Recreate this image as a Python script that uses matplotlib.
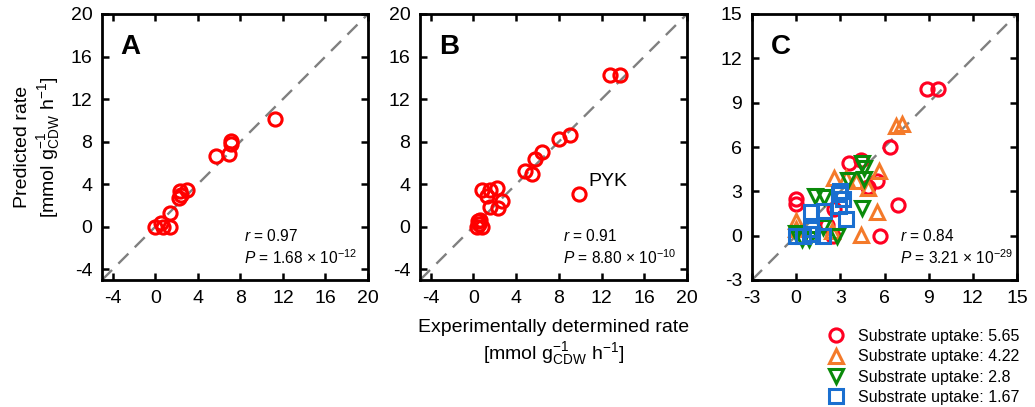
import numpy as np
import matplotlib
matplotlib.use("Agg")
import matplotlib.pyplot as plt

plt.rcParams['font.family'] = ['Liberation Sans', 'DejaVu Sans']
plt.rcParams['mathtext.fontset'] = 'custom'
plt.rcParams['mathtext.rm'] = 'Liberation Sans'
plt.rcParams['mathtext.it'] = 'Liberation Sans:italic'
plt.rcParams['mathtext.bf'] = 'Liberation Sans:bold'
plt.rcParams['axes.unicode_minus'] = False

# panel A
a_exp = [0.0, 0.5, 0.7, 1.4, 1.4, 2.2, 2.4, 2.3, 3.0, 5.7, 6.9, 7.1, 7.1, 11.3]
a_pred = [0.0, 0.4, 0.0, 0.0, 1.3, 2.7, 3.0, 3.4, 3.5, 6.7, 6.8, 7.8, 8.1, 10.1]

# panel B
b_exp = [0.3, 0.5, 0.8, 0.4, 0.6, 0.8, 1.55, 2.2, 1.25, 2.65, 1.55, 2.3,
         4.8, 5.45, 5.75, 6.45, 8.05, 9.05, 9.9, 12.8, 13.7]
b_pred = [0.0, 0.3, 0.0, 0.5, 0.6, 3.5, 3.45, 3.6, 2.85, 2.45, 1.85, 1.75,
          5.2, 4.93, 6.4, 7.0, 8.25, 8.65, 3.05, 14.3, 14.3]

# panel C, one series per substrate uptake
c_labels = ['Substrate uptake: 5.65', 'Substrate uptake: 4.22',
            'Substrate uptake: 2.8', 'Substrate uptake: 1.67']
c_red_x = [0.0, 0.0, 2.1, 2.5, 3.6, 4.4, 4.85, 5.5, 5.7, 6.4, 6.9, 8.9, 9.65, 2.6]
c_red_y = [2.45, 2.15, 0.7, 0.0, 4.95, 5.1, 3.3, 3.7, 0.0, 6.0, 2.1, 9.95, 9.95, 1.8]
c_orange_x = [0.0, 0.0, 2.6, 3.4, 4.05, 4.4, 5.6, 5.5, 6.75, 7.2, 2.4, 4.85]
c_orange_y = [1.0, 0.45, 3.9, 3.9, 3.7, 0.05, 4.4, 1.6, 7.45, 7.55, 0.3, 3.2]
c_green_x = [0.0, 0.4, 0.9, 1.25, 1.9, 2.8, 3.5, 4.5, 4.6, 4.5, 1.8, 4.6]
c_green_y = [0.2, -0.2, -0.2, 2.7, 2.6, -0.05, 3.75, 4.9, 3.85, 1.9, 0.6, 4.6]
c_blue_x = [0.0, 0.45, 1.0, 1.8, 1.0, 1.9, 2.9, 2.9, 3.15, 3.4, 1.1, 2.95]
c_blue_y = [0.0, 0.0, 0.45, 0.0, 1.6, 1.7, 2.0, 2.85, 2.45, 1.1, 0.1, 3.05]

fig = plt.figure(figsize=(10.35, 4.07), dpi=100)
W, H = 1035, 407

def make_ax(left, right, top=14, bottom=280):
    return fig.add_axes([left / W, (H - bottom) / H, (right - left) / W, (bottom - top) / H])

axA = make_ax(102, 368)
axB = make_ax(420, 687)
axC = make_ax(752, 1017)

mk = dict(linestyle='none', markerfacecolor='none', markersize=9.5, markeredgewidth=2.2)

def style(ax, lo, hi, step, letter, r, p):
    ax.plot([lo, hi], [lo, hi], color='#808080', lw=1.7, dashes=(6, 3.8), zorder=1)
    ax.set_xlim(lo, hi)
    ax.set_ylim(lo, hi)
    ticks = np.arange(lo + (1 if step == 4 else 0), hi + 0.1, step)
    ax.set_xticks(ticks)
    ax.set_yticks(ticks)
    ax.tick_params(direction='in', length=5, width=1.8, top=True, right=True,
                   labelsize=14, pad=7)
    for s in ax.spines.values():
        s.set_linewidth(2)
    ax.text(0.07, 0.875, letter, transform=ax.transAxes, fontsize=20,
            fontweight='bold', va='center', ha='left')
    ax.text(0.535, 0.165, r"$r$ = " + r, transform=ax.transAxes, fontsize=11.2,
            va='center', ha='left')
    ax.text(0.535, 0.085, r"$P$ = " + p, transform=ax.transAxes, fontsize=11.2,
            va='center', ha='left')

axA.plot(a_exp, a_pred, marker='o', color='#FF0000', **mk)
style(axA, -5, 20, 4, 'A', '0.97', r"1.68 × 10$^{-12}$")

axB.plot(b_exp, b_pred, marker='o', color='#FF0000', **mk)
style(axB, -5, 20, 4, 'B', '0.91', r"8.80 × 10$^{-10}$")
axB.text(10.8, 4.3, 'PYK', fontsize=14, va='center', ha='left')

colors = ['#FF0022', '#F47A2A', '#0A8A0A', '#1A6FD0']
markers = ['o', '^', 'v', 's']
xs = [c_red_x, c_orange_x, c_green_x, c_blue_x]
ys = [c_red_y, c_orange_y, c_green_y, c_blue_y]
handles = []
for x, y, c, m, lab in zip(xs, ys, colors, markers, c_labels):
    h, = axC.plot(x, y, marker=m, color=c, label=lab, **mk)
    handles.append(h)
style(axC, -3, 15, 3, 'C', '0.84', r"3.21 × 10$^{-29}$")
for t in axC.texts[-2:]:
    t.set_x(0.56)

axA.set_ylabel("Predicted rate\n[mmol $\\mathrm{g}^{-1}_{\\mathrm{CDW}}$ $\\mathrm{h}^{-1}$]",
               fontsize=14, labelpad=6)
axB.set_xlabel("Experimentally determined rate\n[mmol $\\mathrm{g}^{-1}_{\\mathrm{CDW}}$ $\\mathrm{h}^{-1}$]",
               fontsize=14, labelpad=9)

fig.legend(handles=handles, loc='upper left', bbox_to_anchor=(826 / W, (H - 329) / H),
           frameon=False, fontsize=11.5, borderpad=0, borderaxespad=0,
           handlelength=1.2, handletextpad=0.8, labelspacing=0.33)

fig.savefig('out.png', dpi=100)
